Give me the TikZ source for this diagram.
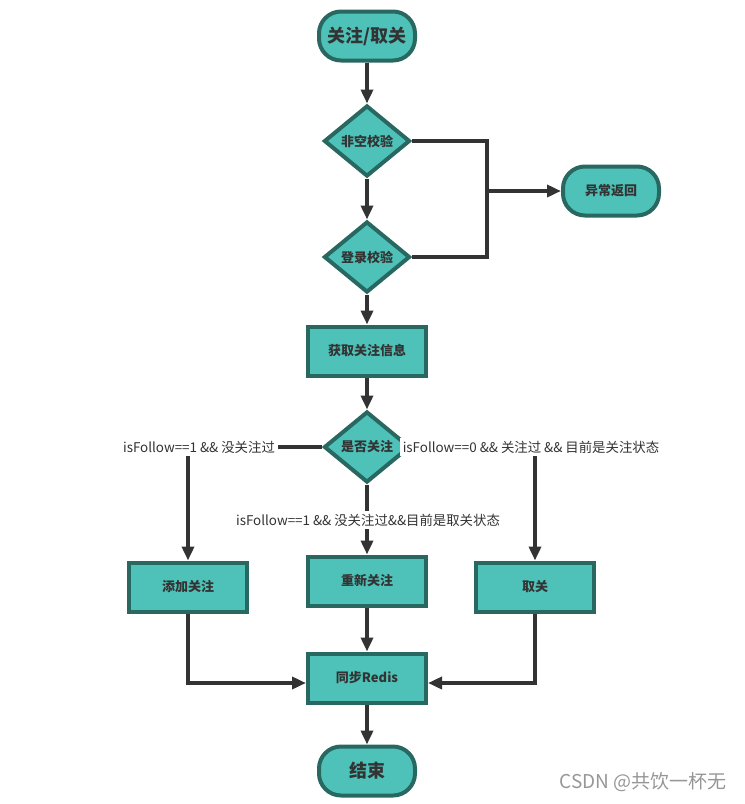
\documentclass[tikz,border=0pt]{standalone}
\usepackage{fontspec}
\setmainfont{Noto Sans CJK SC}
\usetikzlibrary{shapes.geometric, arrows.meta, positioning}
\definecolor{boxfill}{RGB}{78,194,185}
\definecolor{boxline}{RGB}{40,104,96}
\definecolor{linegray}{RGB}{51,51,51}
\definecolor{markgray}{RGB}{150,150,150}

\begin{document}
\begin{tikzpicture}[x=1pt, y=-1pt,
    every node/.style={text=linegray, font=\bfseries\fontsize{13}{15}\selectfont},
    term/.style={draw=boxline, fill=boxfill, line width=4pt, rounded corners=22pt, minimum width=96pt, minimum height=49pt},
    proc/.style={draw=boxline, fill=boxfill, line width=4pt, minimum width=118pt, minimum height=49pt},
    check/.style={diamond, draw=boxline, fill=boxfill, line width=4pt, inner sep=0pt, minimum width=86pt, minimum height=71pt},
    flow/.style={draw=linegray, line width=4pt, -{Triangle[length=14pt,width=12pt]}},
    link/.style={draw=linegray, line width=4pt},
    cond/.style={fill=white, inner sep=3pt, font=\fontsize{13.4}{15}\selectfont}]
    \useasboundingbox (0,0) rectangle (745,804);

    % main column
    \node[term, font=\bfseries\fontsize{18}{20}\selectfont] (start) at (367,36) {关注/取关};
    \node[check] (notnull) at (367,141) {非空校验};
    \node[check] (login) at (367,257) {登录校验};
    \node[term] (error) at (611,191) {异常返回};
    \node[proc] (fetch) at (367,351) {获取关注信息};
    \node[check] (isfollow) at (367,447) {是否关注};
    \coordinate (join) at (487,191);

    % branches
    \node[proc] (add) at (188,587) {添加关注};
    \node[proc] (refollow) at (367,581) {重新关注};
    \node[proc] (cancel) at (535,587) {取关};
    \node[proc] (sync) at (367,678) {同步Redis};
    \node[term, font=\bfseries\fontsize{18}{20}\selectfont] (end) at (367,771) {结束};

    \draw[flow] (start) -- (notnull);
    \draw[flow] (notnull) -- (login);
    \draw[link] (notnull.east) -| (join) |- (login.east);
    \draw[flow] (join) -- (error);
    \draw[flow] (login) -- (fetch);
    \draw[flow] (fetch) -- (isfollow);
    \draw[flow] (isfollow.west) -| (add.north);
    \draw[flow] (isfollow.east) -| (cancel.north);
    \draw[flow] (isfollow) -- (refollow);
    \draw[flow] (add.south) |- ([yshift=-5pt]sync.west);
    \draw[flow] (cancel.south) |- ([yshift=-5pt]sync.east);
    \draw[flow] (refollow) -- (sync);
    \draw[flow] (sync) -- (end);

    % conditions
    \node[cond] (condadd) at (199,447) {isFollow==1 \&\& 没关注过};
    \node[cond] (condcancel) at (531,447) {isFollow==0 \&\& 关注过 \&\& 目前是关注状态};
    \node[cond] (condre) at (368,520) {isFollow==1 \&\& 没关注过\&\&目前是取关状态};

    \node[text=markgray, font=\fontsize{19}{21}\selectfont] (mark) at (643,782) {CSDN @共饮一杯无};
\end{tikzpicture}
\end{document}
